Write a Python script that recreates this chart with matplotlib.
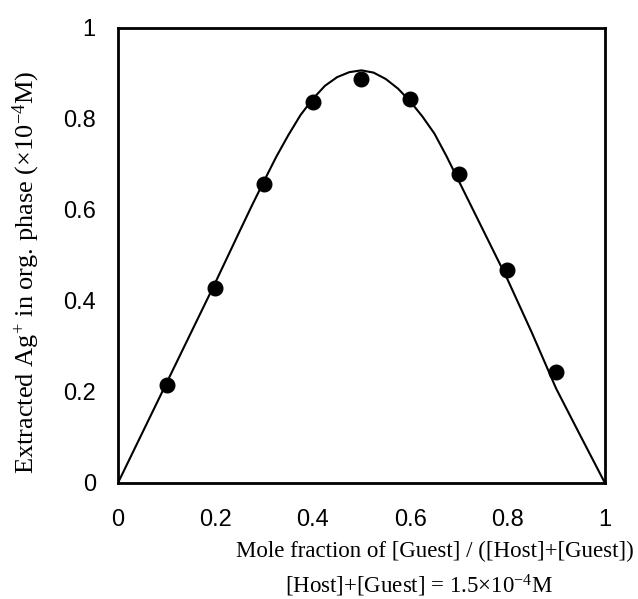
import matplotlib
matplotlib.use("Agg")
import matplotlib.pyplot as plt

plt.rcParams['mathtext.fontset'] = 'custom'
plt.rcParams['mathtext.rm'] = 'Liberation Serif'
plt.rcParams['mathtext.it'] = 'Liberation Serif:italic'

# measured points
mole_frac = [0.1, 0.2, 0.3, 0.4, 0.5, 0.6, 0.7, 0.8, 0.9]
ag_extracted = [0.215, 0.428, 0.657, 0.837, 0.888, 0.844, 0.679, 0.468, 0.244]

# fitted curve
curve_x = [0.0, 0.05, 0.1, 0.15, 0.2, 0.25, 0.275, 0.3, 0.325, 0.35, 0.375,
           0.4, 0.425, 0.45, 0.475, 0.5, 0.525, 0.55, 0.575, 0.6, 0.625,
           0.65, 0.675, 0.7, 0.75, 0.8, 0.85, 0.9, 0.95, 1.0]
curve_y = [0.0, 0.11, 0.22, 0.33, 0.44, 0.553, 0.609, 0.663, 0.716, 0.764,
           0.808, 0.843, 0.872, 0.891, 0.902, 0.906, 0.901, 0.887, 0.866,
           0.838, 0.805, 0.767, 0.717, 0.663, 0.555, 0.447, 0.330, 0.207,
           0.103, 0.0]

xticks = [0, 0.2, 0.4, 0.6, 0.8, 1]
xticklabels = ['0', '0.2', '0.4', '0.6', '0.8', '1']
yticks = [0, 0.2, 0.4, 0.6, 0.8, 1]
yticklabels = ['0', '0.2', '0.4', '0.6', '0.8', '1']

fig = plt.figure(figsize=(6.38, 5.99), dpi=100)
ax = fig.add_axes([0.185, 0.194, 0.763, 0.760])

ax.plot(curve_x, curve_y, color='black', lw=1.5)
ax.plot(mole_frac, ag_extracted, 'o', color='black', ms=10.5)

ax.set_xlim(0, 1)
ax.set_ylim(0, 1)
ax.set_xticks(xticks)
ax.set_xticklabels(xticklabels)
ax.set_yticks(yticks)
ax.set_yticklabels(yticklabels)
ax.tick_params(length=0, labelsize=17)
ax.tick_params(axis='x', pad=19)
ax.tick_params(axis='y', pad=16)
for lab in ax.get_xticklabels() + ax.get_yticklabels():
    lab.set_family('Liberation Sans')
for sp in ax.spines.values():
    sp.set_linewidth(2)

fig.text(0.682, 0.080, 'Mole fraction of [Guest] / ([Host]+[Guest])',
         ha='center', va='center', fontsize=16.5, family='Liberation Serif')
fig.text(0.657, 0.022, r'[Host]+[Guest] = 1.5$\times$10$^{-4}$M',
         ha='center', va='center', fontsize=16.5, family='Liberation Serif')
fig.text(0.042, 0.545, r'Extracted Ag$^{+}$ in org. phase ($\times$10$^{-4}$M)',
         ha='center', va='center', rotation=90, fontsize=19,
         family='Liberation Serif')

fig.savefig('out.png', dpi=100)
